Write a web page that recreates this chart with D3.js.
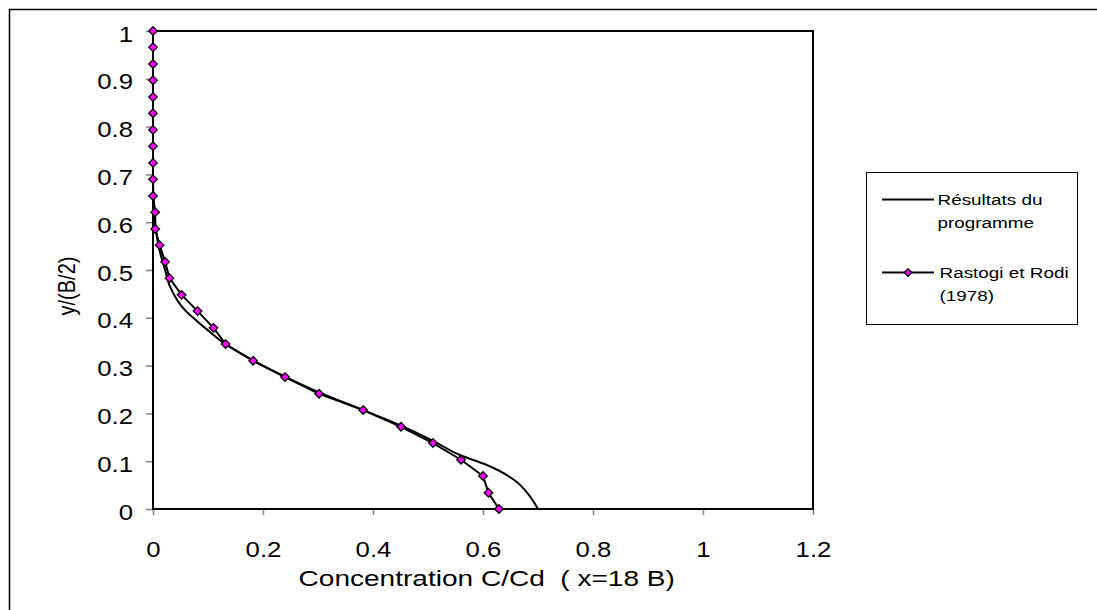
<!DOCTYPE html>
<html>
<head>
<meta charset="utf-8">
<script src="https://cdn.jsdelivr.net/npm/d3@7"></script>
<style>
  body { margin: 0; background: #fff; }
  svg text { font-family: "Liberation Sans", Arial, sans-serif; fill: #000; }
</style>
</head>
<body>
<script>
// tick labels
const xTicks = [0, 0.2, 0.4, 0.6, 0.8, 1, 1.2];
const yTicks = [0, 0.1, 0.2, 0.3, 0.4, 0.5, 0.6, 0.7, 0.8, 0.9, 1];

// Rastogi et Rodi (1978) - measured points
const rastogiY = [1, 0.966, 0.931, 0.897, 0.862, 0.828, 0.793, 0.759, 0.724, 0.690,
                  0.655, 0.621, 0.586, 0.552, 0.517, 0.483, 0.448, 0.414, 0.379, 0.345,
                  0.310, 0.276, 0.241, 0.207, 0.172, 0.138, 0.103, 0.069, 0.034, 0];
const rastogiX = [0, 0, 0, 0, 0, 0, 0, 0, 0, 0,
                  0, 0.004, 0.004, 0.012, 0.022, 0.030, 0.052, 0.081, 0.110, 0.132,
                  0.182, 0.240, 0.302, 0.382, 0.451, 0.509, 0.560, 0.600, 0.610, 0.629];

// Résultats du programme - computed profile
const modelY = [1, 0.70, 0.65, 0.60, 0.55, 0.50, 0.465, 0.437, 0.416, 0.395, 0.372, 0.347,
                0.325, 0.30, 0.277, 0.245, 0.208, 0.175, 0.142, 0.113, 0.092, 0.057, 0.036, 0];
const modelX = [0, 0, 0.001, 0.004, 0.010, 0.022, 0.031, 0.044, 0.058, 0.078, 0.102, 0.129,
                0.16, 0.20, 0.24, 0.30, 0.38, 0.45, 0.51, 0.558, 0.607, 0.661, 0.679, 0.70];

const legendLines = [["Résultats du", "programme"], ["Rastogi et Rodi", "(1978)"]];

const W = 1097, H = 610;
const svg = d3.select("body").append("svg").attr("width", W).attr("height", H);

// chart border
svg.append("rect")
   .attr("x", 9.5).attr("y", 9.5)
   .attr("width", W + 10).attr("height", H + 10)
   .attr("fill", "none").attr("stroke", "#000").attr("stroke-width", 1.5);

const x = d3.scaleLinear().domain([0, 1.2]).range([153, 813]);
const y = d3.scaleLinear().domain([0, 1]).range([509, 31]);

// x axis
let xAxis = svg.append("g")
  .attr("transform", "translate(0,509)")
  .call(d3.axisBottom(x).tickValues(xTicks).tickSize(6).tickFormat(d3.format("")));
xAxis.select(".domain").remove();
xAxis.selectAll("line").attr("stroke", "#808080").attr("stroke-width", 1.5);
xAxis.selectAll("text")
  .attr("y", null).attr("dy", null)
  .attr("font-size", 22)
  .attr("transform", "translate(0,47.7) scale(1.17,1)");

// y axis
let yAxis = svg.append("g")
  .attr("transform", "translate(153,0)")
  .call(d3.axisLeft(y).tickValues(yTicks).tickSize(7).tickFormat(d3.format("")));
yAxis.select(".domain").remove();
yAxis.selectAll("line").attr("stroke", "#808080").attr("stroke-width", 1.5);
yAxis.selectAll("text")
  .attr("x", null).attr("dy", null)
  .attr("font-size", 22)
  .attr("transform", "translate(-20,10) scale(1.17,1)");

// plot frame
svg.append("rect")
   .attr("x", x(0)).attr("y", y(1))
   .attr("width", x(1.2) - x(0)).attr("height", y(0) - y(1))
   .attr("fill", "none").attr("stroke", "#000").attr("stroke-width", 2);

// axis titles
svg.append("text")
   .attr("transform", "translate(486.7,585.7) scale(1.236,1)")
   .attr("text-anchor", "middle").attr("font-size", 22.7)
   .text("Concentration C/Cd\u00A0\u00A0( x=18 B)");

svg.append("text")
   .attr("transform", "translate(75,286) rotate(-90) scale(1,1.2)")
   .attr("text-anchor", "middle").attr("font-size", 20)
   .text("y/(B/2)");

// series
const modelData = modelX.map((v, i) => [v, modelY[i]]);
const rastogiData = rastogiX.map((v, i) => [v, rastogiY[i]]);

svg.append("path").datum(modelData)
   .attr("d", d3.line().x(d => x(d[0])).y(d => y(d[1])).curve(d3.curveMonotoneY))
   .attr("fill", "none").attr("stroke", "#000").attr("stroke-width", 2);

svg.append("path").datum(rastogiData)
   .attr("d", d3.line().x(d => x(d[0])).y(d => y(d[1])))
   .attr("fill", "none").attr("stroke", "#000").attr("stroke-width", 2);

const diamond = {
  draw(ctx, size) {
    const r = Math.sqrt(size / 2);
    ctx.moveTo(0, -r); ctx.lineTo(r, 0); ctx.lineTo(0, r); ctx.lineTo(-r, 0); ctx.closePath();
  }
};
const sym = d3.symbol(diamond, 36);

svg.selectAll(".pt").data(rastogiData).enter().append("path")
   .attr("class", "pt")
   .attr("d", sym)
   .attr("transform", d => "translate(" + x(d[0]) + "," + y(d[1]) + ")")
   .attr("fill", "#FF00FF").attr("stroke", "#000").attr("stroke-width", 1.3);

// legend
svg.append("rect")
   .attr("x", 866.5).attr("y", 172.5).attr("width", 211).attr("height", 152)
   .attr("fill", "#fff").attr("stroke", "#000").attr("stroke-width", 1);

const legendY = [199.5, 272.5];
legendLines.forEach((lines, i) => {
  svg.append("line")
     .attr("x1", 882).attr("x2", 934).attr("y1", legendY[i]).attr("y2", legendY[i])
     .attr("stroke", "#000").attr("stroke-width", 2);
  if (i === 1) {
    svg.append("path").attr("d", d3.symbol(diamond, 28))
       .attr("transform", "translate(908," + legendY[i] + ")")
       .attr("fill", "#FF00FF").attr("stroke", "#000").attr("stroke-width", 1.3);
  }
  lines.forEach((t, j) => {
    svg.append("text")
       .attr("transform", "translate(" + (i === 0 ? 937.5 : 939.5) + "," + (legendY[i] + 5.8 + j * 22.5) + ") scale(1.26,1)")
       .attr("font-size", 15)
       .text(t);
  });
});
</script>
</body>
</html>
